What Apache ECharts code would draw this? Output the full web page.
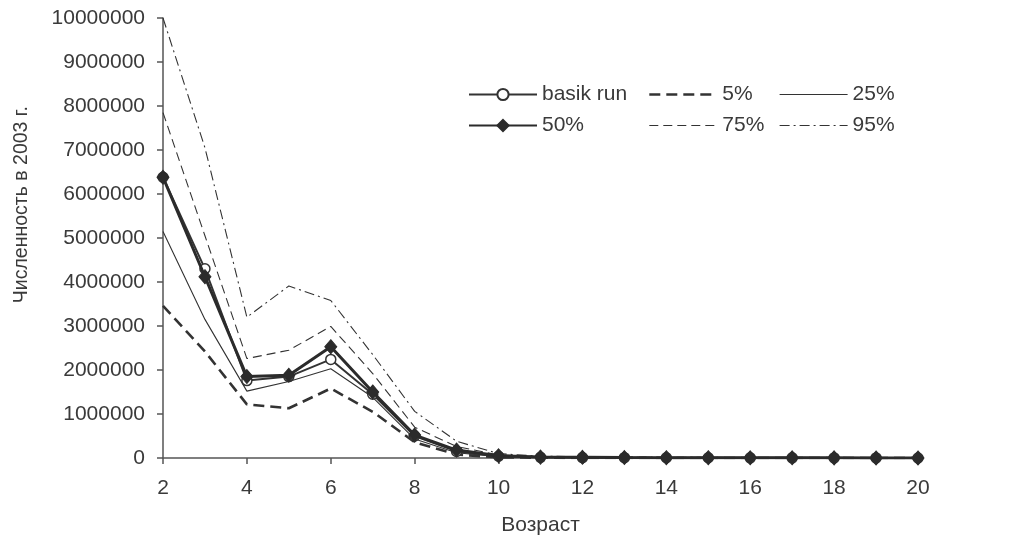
<!DOCTYPE html>
<html>
<head>
<meta charset="utf-8">
<script src="https://cdn.jsdelivr.net/npm/echarts@6/dist/echarts.min.js"></script>
<style>
  html, body { margin: 0; padding: 0; background: #ffffff; }
  #chart { width: 1010px; height: 541px; }
</style>
</head>
<body>
<div id="chart"></div>
<script>
// Age classes (years)
const ages = [2, 3, 4, 5, 6, 7, 8, 9, 10, 11, 12, 13, 14, 15, 16, 17, 18, 19, 20];

// Stock numbers in 2003 by age: base run and percentiles
const basikRun = [6380000, 4300000, 1760000, 1850000, 2240000, 1450000, 500000, 150000, 40000, 15000, 10000, 8000, 6000, 5000, 4000, 3000, 2000, 1500, 1000];
const p5  = [3460000, 2420000, 1220000, 1130000, 1580000, 1050000, 360000, 80000, 15000, 5000, 3000, 2000, 1500, 1000, 800, 600, 500, 400, 300];
const p25 = [5150000, 3150000, 1520000, 1740000, 2030000, 1380000, 430000, 120000, 30000, 10000, 7000, 5000, 4000, 3000, 2500, 2000, 1500, 1000, 800];
const p50 = [6380000, 4120000, 1850000, 1880000, 2530000, 1500000, 520000, 180000, 50000, 20000, 15000, 10000, 8000, 6000, 5000, 4000, 3000, 2000, 1500];
const p75 = [7850000, 5050000, 2260000, 2450000, 2990000, 1920000, 700000, 260000, 70000, 30000, 20000, 15000, 12000, 9000, 7000, 6000, 5000, 4000, 3000];
const p95 = [10000000, 7050000, 3200000, 3910000, 3580000, 2350000, 1060000, 380000, 100000, 40000, 30000, 22000, 18000, 14000, 11000, 9000, 7000, 6000, 5000];

const seriesNames = ['basik run', '5%', '25%', '50%', '75%', '95%'];

const FONT = '"Liberation Sans", Arial, sans-serif';
const INK = '#3a3a3a';
const FS = 21;

const pairs = arr => ages.map((a, i) => [a, arr[i]]);

// legend entry for a line-only series: hide the symbol, keep the stroke
const plain = (name, width, type) => ({
  name: name,
  itemStyle: { opacity: 0 },
  lineStyle: { width: width, type: type, color: '#333' }
});

const chart = echarts.init(document.getElementById('chart'), null, { renderer: 'canvas' });

const legendBase = {
  orient: 'vertical',
  top: 84,
  padding: 0,
  itemWidth: 68,
  itemHeight: 14,
  itemGap: 10,
  textStyle: { fontFamily: FONT, fontSize: FS, color: INK },
  inactiveColor: '#ccc'
};

chart.setOption({
  backgroundColor: '#ffffff',
  animation: false,
  grid: { left: 163, right: 92, top: 18, bottom: 81, containLabel: false },
  legend: [
    Object.assign({}, legendBase, { left: 468, data: [seriesNames[0], seriesNames[3]] }),
    Object.assign({}, legendBase, { left: 648, data: [plain(seriesNames[1], 2.6, [11, 6]), plain(seriesNames[4], 1.2, [9, 5])] }),
    Object.assign({}, legendBase, { left: 779, data: [plain(seriesNames[2], 1.2, 'solid'), plain(seriesNames[5], 1.2, [10, 4, 2, 4])] })
  ],
  xAxis: {
    type: 'value',
    min: 2,
    max: 20,
    interval: 2,
    name: 'Возраст',
    nameLocation: 'middle',
    nameGap: 57,
    nameTextStyle: { fontFamily: FONT, fontSize: FS, color: INK },
    axisLine: { show: true, onZero: false, lineStyle: { color: '#555', width: 1.5 } },
    axisTick: { show: true, length: 6, inside: false, lineStyle: { color: '#555', width: 1.5 } },
    axisLabel: { fontFamily: FONT, fontSize: FS, color: INK, margin: 20 },
    splitLine: { show: false }
  },
  yAxis: {
    type: 'value',
    min: 0,
    max: 10000000,
    interval: 1000000,
    axisLine: { show: true, lineStyle: { color: '#555', width: 1.5 } },
    axisTick: { show: true, length: 6, inside: false, lineStyle: { color: '#555', width: 1.5 } },
    axisLabel: { fontFamily: FONT, fontSize: FS, color: INK, margin: 18, formatter: v => String(v) },
    splitLine: { show: false }
  },
  graphic: [{
    type: 'text',
    left: 12,
    top: 106,
    rotation: Math.PI / 2,
    style: {
      text: 'Численность в 2003 г.',
      font: '19.5px ' + FONT,
      fill: INK
    }
  }],
  series: [
    {
      name: seriesNames[1], type: 'line', data: pairs(p5), symbol: 'none', z: 2,
      lineStyle: { color: '#333', width: 2.6, type: [11, 6] },
      itemStyle: { color: '#333' }
    },
    {
      name: seriesNames[2], type: 'line', data: pairs(p25), symbol: 'none', z: 2,
      lineStyle: { color: '#333', width: 1.1, type: 'solid' },
      itemStyle: { color: '#333' }
    },
    {
      name: seriesNames[4], type: 'line', data: pairs(p75), symbol: 'none', z: 2,
      lineStyle: { color: '#333', width: 1.1, type: [9, 5] },
      itemStyle: { color: '#333' }
    },
    {
      name: seriesNames[5], type: 'line', data: pairs(p95), symbol: 'none', z: 2,
      lineStyle: { color: '#333', width: 1.1, type: [10, 4, 2, 4] },
      itemStyle: { color: '#333' }
    },
    {
      name: seriesNames[0], type: 'line', data: pairs(basikRun), z: 3,
      symbol: 'circle', symbolSize: 10,
      lineStyle: { color: '#333', width: 2 },
      itemStyle: { color: '#ffffff', borderColor: '#333', borderWidth: 1.5 }
    },
    {
      name: seriesNames[3], type: 'line', data: pairs(p50), z: 4,
      symbol: 'diamond', symbolSize: [12, 14],
      lineStyle: { color: '#2b2b2b', width: 3 },
      itemStyle: { color: '#2b2b2b', borderColor: '#2b2b2b', borderWidth: 1 }
    }
  ]
});
</script>
</body>
</html>
